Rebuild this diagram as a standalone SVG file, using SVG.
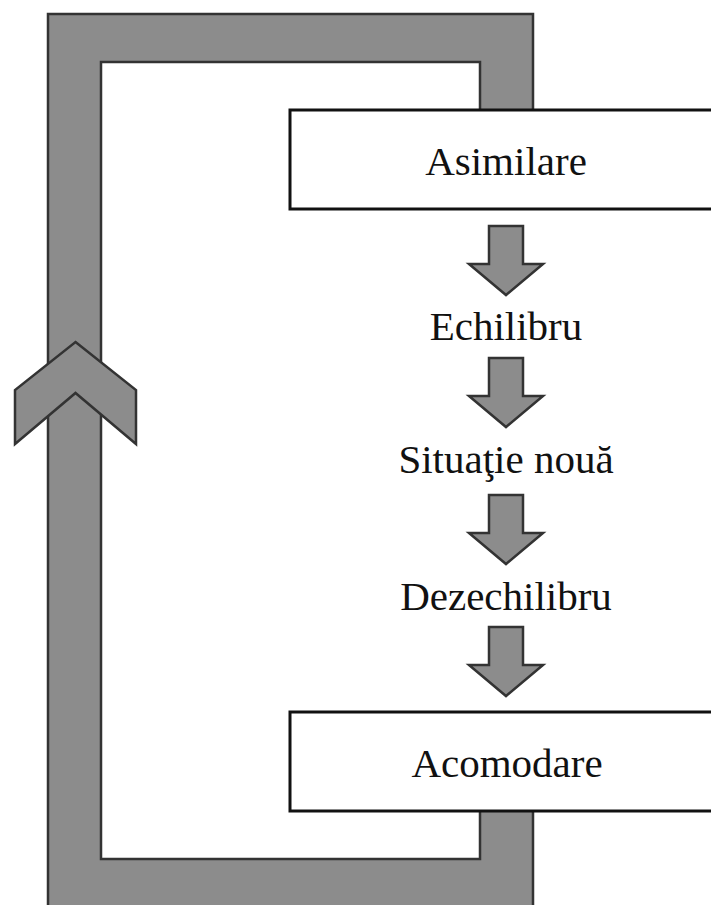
<svg xmlns="http://www.w3.org/2000/svg" xmlns:xlink="http://www.w3.org/1999/xlink" width="711" height="905" viewBox="0 0 711 905">
  <style>
    .band { fill: #8c8c8c; stroke: #333333; stroke-width: 2.5; stroke-linejoin: miter; }
    .box { fill: #ffffff; stroke: #111111; stroke-width: 3; }
    .label { font-family: "Liberation Serif", "Times New Roman", serif; font-size: 41px; fill: #111111; text-anchor: middle; }
    .step { fill: #8c8c8c; stroke: #333333; stroke-width: 2.5; stroke-linejoin: miter; }
  </style>
  <defs>
    <!-- block arrow pointing down, origin at top-centre of its shaft -->
    <path id="down" class="step" d="M -17 0 H 17 V 38 H 37 L 0 69 L -37 38 H -17 Z"/>
  </defs>

  <!-- feedback loop band from Acomodare back up to Asimilare -->
  <g id="loop">
    <path class="band" d="M 533 112 V 14 H 48 V 915 H 533 V 810 H 480 V 859 H 101 V 62 H 480 V 112 Z"/>
    <polygon class="band" points="75.5,342 136,390 136,444 75.5,393 15,444 15,390"/>
  </g>

  <g id="asimilare">
    <rect class="box" x="290" y="110" width="430" height="99"/>
    <text class="label" x="506" y="175">Asimilare</text>
  </g>

  <g id="echilibru">
    <text class="label" x="506" y="340">Echilibru</text>
  </g>

  <g id="situatie-noua">
    <text class="label" x="506" y="473">Situaţie nouă</text>
  </g>

  <g id="dezechilibru">
    <text class="label" x="506" y="610">Dezechilibru</text>
  </g>

  <g id="acomodare">
    <rect class="box" x="290" y="712" width="430" height="99"/>
    <text class="label" x="507" y="777">Acomodare</text>
  </g>

  <g id="connectors">
    <use xlink:href="#down" x="506" y="226"/>
    <use xlink:href="#down" x="506" y="358"/>
    <use xlink:href="#down" x="506" y="495"/>
    <use xlink:href="#down" x="506" y="627"/>
  </g>
</svg>
